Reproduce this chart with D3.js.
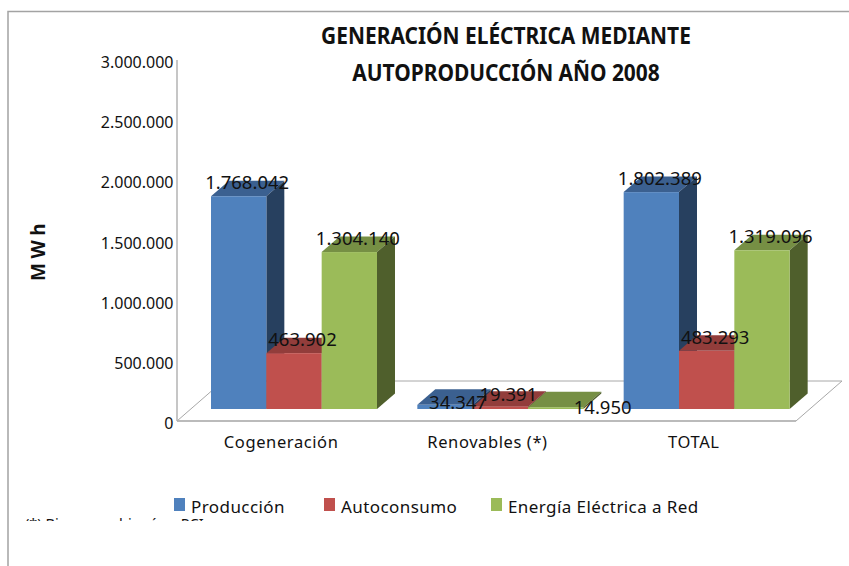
<!DOCTYPE html>
<html>
<head>
<meta charset="utf-8">
<script src="https://cdn.jsdelivr.net/npm/d3@7"></script>
<style>
  html, body { margin: 0; padding: 0; background: #fff; }
  svg { display: block; }
  text { font-family: "Noto Sans", sans-serif; fill: #111; }
</style>
</head>
<body>
<svg width="849" height="566"></svg>
<script>
var categories = ["Cogeneración", "Renovables (*)", "TOTAL"];
var seriesNames = ["Producción", "Autoconsumo", "Energía Eléctrica a Red"];
var produccion = [1768042, 34347, 1802389];
var autoconsumo = [463902, 19391, 483293];
var energiaRed = [1304140, 14950, 1319096];
var yTicks = [0, 500000, 1000000, 1500000, 2000000, 2500000, 3000000];
var titleLines = ["GENERACIÓN ELÉCTRICA MEDIANTE", "AUTOPRODUCCIÓN AÑO 2008"];
var footnote = "(*) Biomasa y biogás o PCI";

var svg = d3.select("svg");

var colors = [
  { front: "#4f81bd", top: "#3b6090", side: "#27405f" },
  { front: "#c0504d", top: "#923d3b", side: "#642a28" },
  { front: "#9bbb59", top: "#768f44", side: "#4f5f2c" }
];

// floor corners and depth of the fake 3d box
var x0 = 177, x1 = 796, yTop = 60, yBase = 421;
var floorDx = 46, floorDy = 40;
var barBase = 12, depthX = 18, depthY = 15.5;

var y = d3.scaleLinear().domain([0, 3000000]).range([yBase, yTop]);
var x = d3.scaleBand().domain(categories).range([x0, x1]);
var xInner = d3.scaleBand().domain(seriesNames).range([34, 200]);

var fmt = function (v) {
  return d3.format(",")(v).replace(/,/g, ".");
};

// walls and floor
svg.append("path")
  .attr("d", "M8,566V11.5H849")
  .attr("fill", "none").attr("stroke", "#a3a3a3").attr("stroke-width", 1.5);
svg.append("line")
  .attr("x1", x0).attr("x2", x0).attr("y1", yTop).attr("y2", yBase)
  .attr("stroke", "#b3b3b3").attr("stroke-width", 1.5);
svg.append("path")
  .attr("d", "M" + x0 + "," + yBase + "L" + (x0 + floorDx) + "," + (yBase - floorDy) +
    "H" + (x1 + floorDx) + "L" + x1 + "," + yBase + "Z")
  .attr("fill", "none").attr("stroke", "#a8a8a8").attr("stroke-width", 1);
svg.append("line")
  .attr("x1", x0).attr("x2", x1).attr("y1", yBase).attr("y2", yBase)
  .attr("stroke", "#b3b3b3").attr("stroke-width", 1.5);

// y tick labels
svg.append("g").selectAll("text").data(yTicks).join("text")
  .attr("x", 173.5)
  .attr("y", function (d) { return y(d) + 8; })
  .attr("text-anchor", "end")
  .attr("font-size", 16)
  .text(fmt);

// category labels
svg.append("g").selectAll("text").data(categories).join("text")
  .attr("x", function (d) { return x(d) + x.bandwidth() / 2 + 1; })
  .attr("y", 448)
  .attr("text-anchor", "middle")
  .attr("font-size", 16.5)
  .attr("letter-spacing", 0.6)
  .text(function (d) { return d; });

// bars, drawn series by series so each one hides the side of the last
var allValues = [produccion, autoconsumo, energiaRed];
var barRows = [];
seriesNames.forEach(function (name, s) {
  categories.forEach(function (cat, c) {
    barRows.push({ name: name, s: s, cat: cat, c: c, value: allValues[s][c] });
  });
});

var barX = function (d) { return x(d.cat) + xInner(d.name); };
var barTop = function (d) { return y(d.value) - barBase; };
var barBottom = y(0) - barBase;
var w = xInner.bandwidth();

var bars = svg.append("g").selectAll("g").data(barRows).join("g");
bars.append("path")
  .attr("fill", function (d) { return colors[d.s].top; })
  .attr("d", function (d) {
    return "M" + barX(d) + "," + barTop(d) + "l" + depthX + "," + (-depthY) +
      "h" + w + "l" + (-depthX) + "," + depthY + "Z";
  });
bars.append("path")
  .attr("fill", function (d) { return colors[d.s].side; })
  .attr("d", function (d) {
    return "M" + (barX(d) + w) + "," + barTop(d) + "l" + depthX + "," + (-depthY) +
      "V" + (barBottom - depthY) + "l" + (-depthX) + "," + depthY + "Z";
  });
bars.append("rect")
  .attr("fill", function (d) { return colors[d.s].front; })
  .attr("x", barX)
  .attr("y", barTop)
  .attr("width", w)
  .attr("height", function (d) { return barBottom - barTop(d); });

// value labels; the three small ones were moved by hand in the original
var smallNudge = {
  "Producción": [13, 20],
  "Autoconsumo": [8, 9.5],
  "Energía Eléctrica a Red": [47, 22]
};
svg.append("g").selectAll("text").data(barRows).join("text")
  .attr("x", function (d) {
    var dx = d.c === 1 ? smallNudge[d.name][0] : 8.5;
    return barX(d) + w / 2 + dx;
  })
  .attr("y", function (d) {
    var dy = d.c === 1 ? smallNudge[d.name][1] : 8.5;
    return barTop(d) - depthY + dy;
  })
  .attr("text-anchor", "middle")
  .attr("font-size", 18.5)
  .text(function (d) { return fmt(d.value); });

// title, squeezed sideways since the original face is a narrow one
svg.append("g")
  .attr("transform", "translate(506,0) scale(0.91,1)")
  .selectAll("text").data(titleLines).join("text")
  .attr("y", function (d, i) { return 44 + i * 37; })
  .attr("text-anchor", "middle")
  .attr("font-size", 23)
  .attr("font-weight", "bold")
  .text(function (d) { return d; });

// axis title
svg.append("text")
  .attr("transform", "translate(45,281) rotate(-90)")
  .attr("font-size", 19)
  .attr("font-weight", "bold")
  .attr("letter-spacing", 4.5)
  .text("MWh");

// footnote, cut off by the legend box in the original
svg.append("clipPath").attr("id", "noteClip")
  .append("rect").attr("x", 0).attr("y", 500).attr("width", 849).attr("height", 21);
svg.append("text")
  .attr("clip-path", "url(#noteClip)")
  .attr("x", 25).attr("y", 529)
  .attr("font-size", 14.5)
  .text(footnote);

// legend
var legendX = [174, 324, 491];
var legend = svg.append("g").selectAll("g").data(seriesNames).join("g");
legend.append("rect")
  .attr("x", function (d, i) { return legendX[i]; })
  .attr("y", 498)
  .attr("width", 11).attr("height", 13)
  .attr("fill", function (d, i) { return colors[i].front; });
legend.append("text")
  .attr("x", function (d, i) { return legendX[i] + 17; })
  .attr("y", 513)
  .attr("font-size", 17)
  .attr("letter-spacing", 0.42)
  .text(function (d) { return d; });
</script>
</body>
</html>
